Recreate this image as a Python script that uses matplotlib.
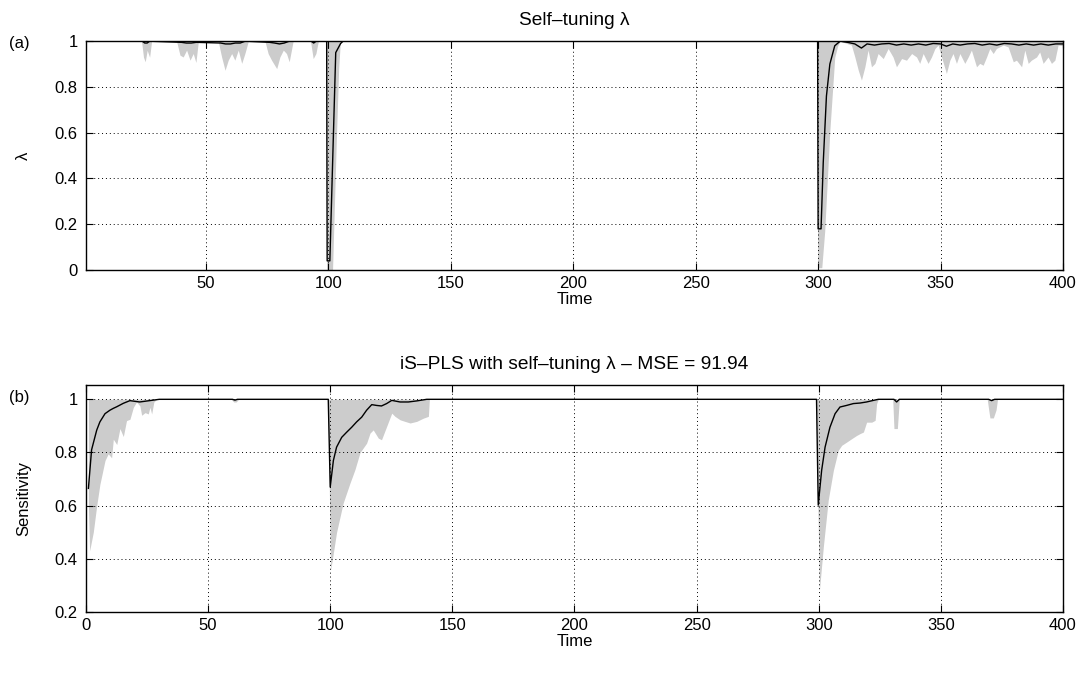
import numpy as np
import matplotlib
matplotlib.use("Agg")
import matplotlib.pyplot as plt
from matplotlib.ticker import FuncFormatter

# ---- panel (a): self-tuning lambda ----
# lower edge of grey band (upper edge sits at 1)
lam_low_t = [1, 23.7, 24.5, 25.2, 26.0, 27.0, 27.8,
             38.0, 39.4, 40.7, 42.1, 43.5, 44.8, 45.9, 46.9,
             55.0, 56.4, 57.8, 59.1, 60.5, 61.8, 63.2, 64.6, 65.9, 67.3,
             74.1, 75.4, 76.8, 78.9, 80.2, 81.6, 82.9, 84.0, 85.6,
             92.7, 93.8, 94.9, 95.9,
             98.9, 99.3, 101.7, 103.2, 104.2, 104.9,
             299.5, 299.8, 301.5, 302.7, 304.8, 306.8, 308.0, 309.0,
             313.6, 315.0, 316.4, 317.7, 319.1, 320.4, 321.8, 323.2, 324.5, 326.6,
             328.6, 330.6, 332.0, 334.1, 336.1, 338.2, 340.2, 341.5, 342.9, 344.9,
             346.3, 347.7, 349.0, 350.4, 352.4, 353.8, 355.1, 356.5, 357.9, 359.9,
             361.3, 362.6, 364.7, 366.0, 367.4, 368.8, 370.1, 371.5, 372.8, 375.6,
             377.6, 379.7, 381.0, 383.1, 384.4, 385.8, 387.1, 389.2, 390.5, 391.9,
             393.9, 395.3, 396.7, 398.0, 400]
lam_low_v = [1.0, 1.0, 0.93, 0.91, 0.96, 0.93, 1.0,
             1.0, 0.939, 0.931, 0.961, 0.917, 0.946, 0.907, 1.0,
             1.0, 0.931, 0.873, 0.917, 0.946, 0.917, 0.961, 0.903, 0.946, 1.0,
             1.0, 0.946, 0.917, 0.880, 0.931, 0.961, 0.946, 0.910, 1.0,
             1.0, 0.924, 0.946, 1.0,
             1.0, 0.0, 0.0, 0.55, 0.88, 1.0,
             1.0, 0.01, 0.01, 0.17, 0.61, 0.93, 0.98, 1.0,
             0.983, 0.931, 0.873, 0.830, 0.888, 0.961, 0.888, 0.903, 0.946, 0.924,
             0.968, 0.931, 0.888, 0.924, 0.917, 0.946, 0.931, 0.903, 0.946, 0.903,
             0.931, 0.968, 0.983, 0.931, 0.859, 0.917, 0.946, 0.903, 0.946, 0.903,
             0.931, 0.961, 0.888, 0.903, 0.895, 0.931, 0.968, 0.946, 0.968, 0.983,
             0.975, 0.910, 0.917, 0.888, 0.961, 0.903, 0.917, 0.931, 0.953, 0.903,
             0.931, 0.903, 0.917, 0.983, 0.98]

lam_mean_t = [1, 24, 25, 26, 27,
              40, 42, 44, 46,
              56, 58, 60, 62, 64, 66,
              76, 78, 80, 82, 84,
              93, 94, 95,
              99.3, 99.5, 100.6, 103.0, 105.0, 106.0,
              299.8, 300.0, 301.2, 302.1, 303.4, 304.8, 306.8, 309.0,
              312, 315, 317.7, 320, 323, 326, 329, 332, 335, 338,
              341, 344, 347, 350, 352.4, 355, 358, 361, 364, 367,
              370, 373, 376, 379, 382, 385, 388, 391, 394, 397, 400]
lam_mean_v = [1.0, 1.0, 0.992, 0.992, 1.0,
              0.995, 0.992, 0.992, 0.995,
              0.992, 0.988, 0.988, 0.992, 0.992, 1.0,
              0.995, 0.992, 0.988, 0.992, 1.0,
              1.0, 0.992, 1.0,
              1.0, 0.04, 0.04, 0.95, 0.99, 1.0,
              1.0, 0.18, 0.18, 0.47, 0.76, 0.90, 0.98, 1.0,
              0.995, 0.988, 0.97, 0.988, 0.983, 0.988, 0.99, 0.983, 0.988, 0.983,
              0.988, 0.983, 0.99, 0.988, 0.978, 0.988, 0.983, 0.988, 0.99, 0.983,
              0.988, 0.983, 0.99, 0.988, 0.983, 0.988, 0.983, 0.988, 0.983, 0.988, 0.988]

# ---- panel (b): sensitivity ----
sens_low_t = [1.0, 1.5, 3.0, 4.4, 5.7, 7.8, 9.1, 10.5, 11.2, 12.6, 13.9, 15.3,
              16.6, 18.0, 19.4, 20.7, 22.1, 22.8, 24.2, 25.5, 26.2, 26.9, 27.8, 28.9,
              59.5, 60.5, 61.5, 62.5,
              99.0, 100.2, 102.6, 105.3, 108.1, 110.1, 112.2, 114.9, 116.3, 117.6,
              119.7, 121.0, 123.1, 125.2, 126.5, 128.6, 130.6, 132.7, 135.4, 138.1,
              140.2, 140.6,
              298.8, 300.3, 301.9, 303.9, 306.0, 308.0, 309.4, 311.4, 313.5, 315.5,
              316.9, 318.3, 319.6, 321.7, 323.1, 323.7, 324.4,
              330.3, 330.8, 332.2, 333.0,
              369.0, 369.6, 370.1, 371.5, 372.6, 373.2, 400]
sens_low_v = [0.60, 0.43, 0.50, 0.60, 0.68, 0.77, 0.795, 0.78, 0.85, 0.83, 0.89, 0.86,
              0.92, 0.925, 0.97, 0.99, 0.975, 0.94, 0.95, 0.945, 0.97, 0.945, 0.99, 1.0,
              1.0, 0.99, 0.99, 1.0,
              1.0, 0.358, 0.50, 0.61, 0.685, 0.735, 0.80, 0.835, 0.873, 0.885,
              0.854, 0.848, 0.898, 0.948, 0.936, 0.923, 0.917, 0.911, 0.917, 0.929,
              0.936, 1.0,
              1.0, 0.283, 0.446, 0.621, 0.733, 0.808, 0.827, 0.839, 0.852, 0.864,
              0.871, 0.877, 0.914, 0.914, 0.921, 0.984, 1.0,
              1.0, 0.89, 0.89, 1.0,
              1.0, 0.96, 0.93, 0.93, 0.96, 1.0, 1.0]

sens_mean_t = [1, 2.3, 4.4, 5.7, 7.8, 9.8, 11.2, 12.6, 15.3, 18, 22, 26, 30,
               60, 61, 62,
               99.2, 100, 101.3, 102.6, 104.7, 106.7, 108.8, 110.8, 112.9, 114.9,
               117, 119, 121, 123.1, 125.2, 128.6, 132, 135.4, 139.5,
               299.1, 299.8, 301.2, 302.6, 304.6, 306.7, 308.7, 311.4, 314.2, 316.9,
               319.6, 322.4, 324.4,
               330.8, 331.9, 333,
               369.6, 370.8, 372, 400]
sens_mean_v = [0.665, 0.81, 0.884, 0.915, 0.946, 0.959, 0.966, 0.972, 0.985, 0.995, 0.99, 0.995, 1.0,
               1.0, 0.997, 1.0,
               1.0, 0.67, 0.77, 0.82, 0.857, 0.876, 0.895, 0.915, 0.933, 0.959,
               0.98, 0.977, 0.975, 0.984, 0.996, 0.99, 0.99, 0.994, 1.0,
               1.0, 0.602, 0.733, 0.82, 0.895, 0.946, 0.971, 0.977, 0.984, 0.986,
               0.99, 0.996, 1.0,
               1.0, 0.99, 1.0,
               1.0, 0.995, 1.0, 1.0]

plt.rcParams["font.family"] = ["Liberation Sans", "DejaVu Sans"]
plt.rcParams["font.size"] = 12

band_color = "#cccccc"
fmt = FuncFormatter(lambda v, p: "%g" % round(v, 2))


def style_axes(ax):
    ax.tick_params(direction="in", top=True, right=True, length=5, width=0.8)
    ax.tick_params(axis="y", pad=6)
    ax.tick_params(axis="x", pad=4)
    ax.grid(True, color="k", linewidth=0.7, linestyle=(0, (1, 3)))
    for s in ax.spines.values():
        s.set_linewidth(1.0)
    ax.yaxis.set_major_formatter(fmt)


fig = plt.figure(figsize=(10.84, 6.73), dpi=100)

ax1 = fig.add_axes([0.0793, 0.5988, 0.9013, 0.340])
ax1.fill_between(lam_low_t, lam_low_v, 1.0, color=band_color, linewidth=0)
ax1.plot(lam_mean_t, lam_mean_v, color="k", linewidth=1.0)
ax1.set_xlim(1, 400)
ax1.set_ylim(0, 1)
ax1.set_xticks(np.arange(50, 401, 50))
ax1.set_yticks(np.arange(0, 1.01, 0.2))
style_axes(ax1)
ax1.set_ylabel("\u03bb", labelpad=17)
ax1.set_xlabel("Time", labelpad=1)
ax1.set_title("Self\u2013tuning \u03bb", pad=12, fontsize=13.8)

ax2 = fig.add_axes([0.0793, 0.0906, 0.9013, 0.337])
ax2.fill_between(sens_low_t, sens_low_v, 1.0, color=band_color, linewidth=0)
ax2.plot(sens_mean_t, sens_mean_v, color="k", linewidth=1.0)
ax2.set_xlim(0, 400)
ax2.set_ylim(0.2, 1.053)
ax2.set_xticks(np.arange(0, 401, 50))
ax2.set_yticks(np.arange(0.2, 1.01, 0.2))
style_axes(ax2)
ax2.set_ylabel("Sensitivity", labelpad=17)
ax2.set_xlabel("Time", labelpad=1)
ax2.set_title("iS\u2013PLS with self\u2013tuning \u03bb \u2013 MSE = 91.94", pad=12, fontsize=13.8)

fig.text(0.008, 0.936, "(a)", va="center", ha="left")
fig.text(0.008, 0.409, "(b)", va="center", ha="left")

fig.savefig("out.png", dpi=100)
